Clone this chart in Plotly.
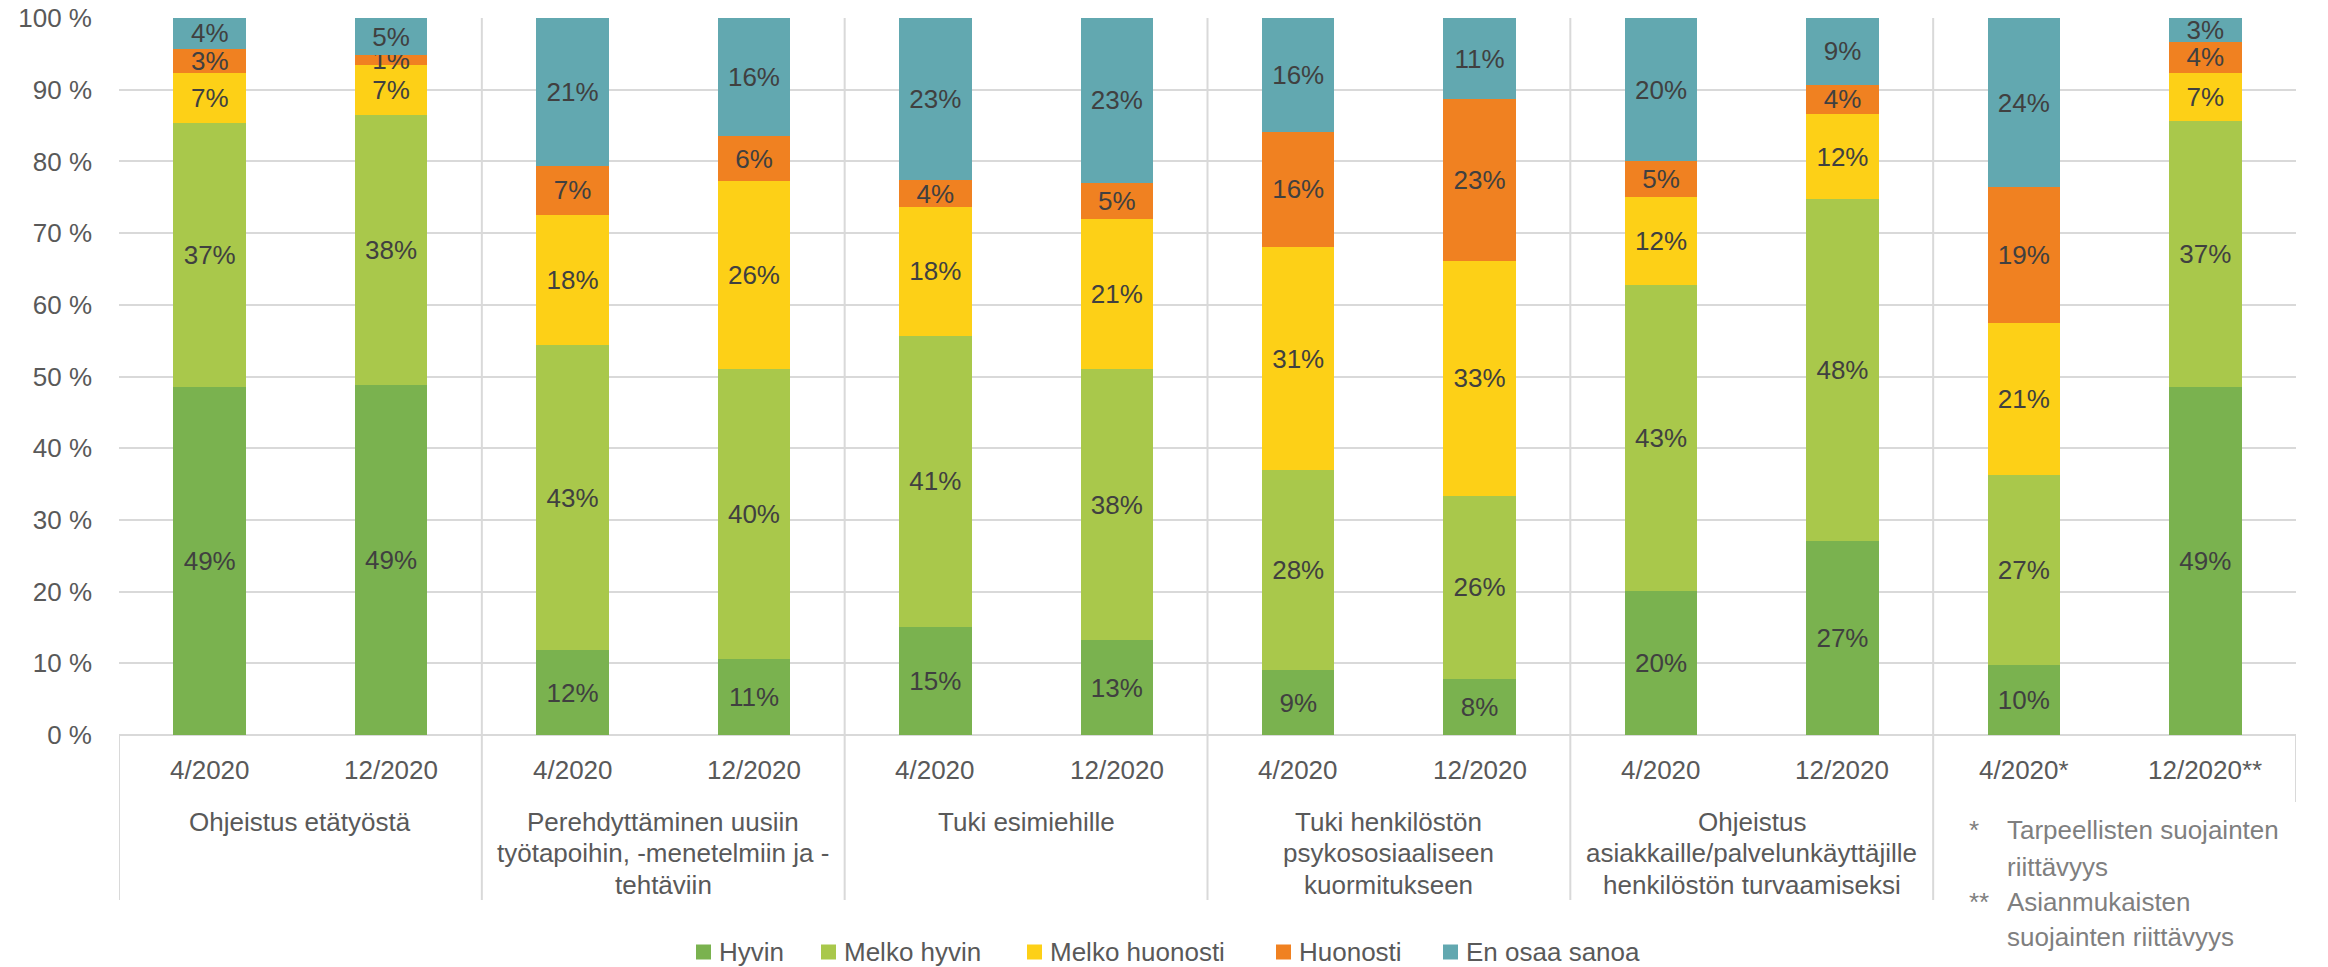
import plotly.graph_objects as go

# Survey periods (x categories), two per topic group
periods = ["4/2020", "12/2020", "4/2020", "12/2020", "4/2020", "12/2020",
           "4/2020", "12/2020", "4/2020", "12/2020", "4/2020*", "12/2020**"]

# Topic group labels, one list of lines per group (last group has no label)
group_lines = [
    ["Ohjeistus etätyöstä"],
    ["Perehdyttäminen uusiin", "työtapoihin, -menetelmiin ja -", "tehtäviin"],
    ["Tuki esimiehille"],
    ["Tuki henkilöstön", "psykososiaaliseen", "kuormitukseen"],
    ["Ohjeistus", "asiakkaille/palvelunkäyttäjille", "henkilöstön turvaamiseksi"],
    [],
]

# Response shares (%) per period
hyvin = [48.6, 48.8, 11.8, 10.6, 15.1, 13.2, 9.0, 7.8, 20.1, 27.1, 9.7, 48.6]
melko_hyvin = [36.7, 37.7, 42.6, 40.4, 40.6, 37.8, 27.9, 25.6, 42.6, 47.6, 26.6, 37.1]
melko_huonosti = [7.0, 7.0, 18.1, 26.2, 17.9, 21.0, 31.2, 32.7, 12.3, 11.9, 21.1, 6.6]
huonosti = [3.4, 1.3, 6.9, 6.4, 3.8, 5.0, 16.0, 22.6, 5.0, 4.1, 19.0, 4.4]
en_osaa = [4.3, 5.2, 20.6, 16.4, 22.6, 23.0, 15.9, 11.3, 20.0, 9.3, 23.6, 3.3]

series = [
    ("Hyvin", hyvin, "#7AB24F"),
    ("Melko hyvin", melko_hyvin, "#A9C84B"),
    ("Melko huonosti", melko_huonosti, "#FDD017"),
    ("Huonosti", huonosti, "#F08121"),
    ("En osaa sanoa", en_osaa, "#62A8B0"),
]

y_ticks = [0, 10, 20, 30, 40, 50, 60, 70, 80, 90, 100]

footnotes = [
    ("*", "Tarpeellisten suojainten"),
    ("", "riittävyys"),
    ("**", "Asianmukaisten"),
    ("", "suojainten riittävyys"),
]

FONT = "Liberation Sans, Arial, sans-serif"
FS = 26
W, H = 2328, 967
ML, MR, MT, MB = 119, 32, 18, 232
plot_h = H - MT - MB
plot_w = W - ML - MR

# legend key left edges (px) and key size
legend_key_px = [696, 821, 1027, 1276, 1443]
KEY = 15
LEGEND_Y = 952

xpos = list(range(len(periods)))

fig = go.Figure()
for name, vals, color in series:
    fig.add_trace(go.Bar(
        x=xpos, y=vals, name=name, width=0.4,
        marker=dict(color=color, line=dict(width=0)),
        texttemplate="%{y:.0f}%", textposition="inside",
        insidetextanchor="middle", constraintext="none", textangle=0,
        textfont=dict(family=FONT, size=FS, color="#404040"),
        hoverinfo="skip", showlegend=False,
    ))

def py(px_below_axis):
    # paper y for a pixel offset below the x axis line
    return -px_below_axis / plot_h

def px_x(px):
    # paper x for an absolute pixel column
    return (px - ML) / plot_w

shapes = []
line_col = "#D9D9D9"
# group separators (through plot area and label area)
for k in range(1, 6):
    xb = 2 * k - 0.5
    shapes.append(dict(type="line", xref="x", yref="paper", x0=xb, x1=xb,
                       y0=1, y1=py(165), line=dict(color=line_col, width=2)))
# left edge of the label area
shapes.append(dict(type="line", xref="x", yref="paper", x0=-0.5, x1=-0.5,
                   y0=0, y1=py(165), line=dict(color=line_col, width=2)))
# right edge of the label area
shapes.append(dict(type="line", xref="x", yref="paper", x0=11.5, x1=11.5,
                   y0=0, y1=py(67), line=dict(color=line_col, width=2)))

annotations = []
for i, p in enumerate(periods):
    annotations.append(dict(x=i, y=0, xref="x", yref="paper", text=p,
                            showarrow=False, yanchor="middle", yshift=-35,
                            font=dict(family=FONT, size=FS, color="#595959")))
line_offsets = [87, 118, 150]
for g, lines in enumerate(group_lines):
    for j, txt in enumerate(lines):
        annotations.append(dict(x=2 * g + 0.5, y=0, xref="x", yref="paper",
                                text=txt, showarrow=False, yanchor="middle",
                                yshift=-line_offsets[j],
                                font=dict(family=FONT, size=FS, color="#595959")))

foot_y = [95, 132, 167, 202]
for (mark, txt), dy in zip(footnotes, foot_y):
    if mark:
        annotations.append(dict(x=px_x(1967), y=0, xref="paper", yref="paper",
                                text=mark, showarrow=False, xanchor="left",
                                yanchor="middle", yshift=-dy,
                                font=dict(family=FONT, size=FS, color="#7F7F7F")))
    annotations.append(dict(x=px_x(2005), y=0, xref="paper", yref="paper",
                            text=txt, showarrow=False, xanchor="left",
                            yanchor="middle", yshift=-dy,
                            font=dict(family=FONT, size=FS, color="#7F7F7F")))

# legend: colour keys with series names
for (name, _, color), kx in zip(series, legend_key_px):
    shapes.append(dict(type="rect", xref="paper", yref="paper",
                       x0=px_x(kx), x1=px_x(kx + KEY),
                       y0=py(LEGEND_Y - 735 - KEY / 2), y1=py(LEGEND_Y - 735 + KEY / 2),
                       fillcolor=color, line=dict(width=0)))
    annotations.append(dict(x=px_x(kx + KEY + 6), y=py(LEGEND_Y - 735),
                            xref="paper", yref="paper", text=name,
                            showarrow=False, xanchor="left", yanchor="middle",
                            font=dict(family=FONT, size=FS, color="#595959")))

fig.update_layout(
    width=W, height=H,
    margin=dict(l=ML, r=MR, t=MT, b=MB, autoexpand=False),
    barmode="stack",
    plot_bgcolor="white", paper_bgcolor="white",
    font=dict(family=FONT, size=FS, color="#595959"),
    xaxis=dict(range=[-0.5, 11.5], showticklabels=False, showgrid=False,
               zeroline=False, showline=False, fixedrange=True),
    yaxis=dict(range=[0, 100], tickvals=y_ticks,
               ticktext=[f"{v} %" for v in y_ticks],
               showgrid=True, gridcolor=line_col, gridwidth=2,
               zeroline=True, zerolinecolor=line_col, zerolinewidth=2,
               showline=False, ticks="", ticklabelstandoff=26,
               tickfont=dict(family=FONT, size=FS, color="#595959")),
    shapes=shapes,
    annotations=annotations,
    showlegend=False,
)

fig.write_html("out.html")
